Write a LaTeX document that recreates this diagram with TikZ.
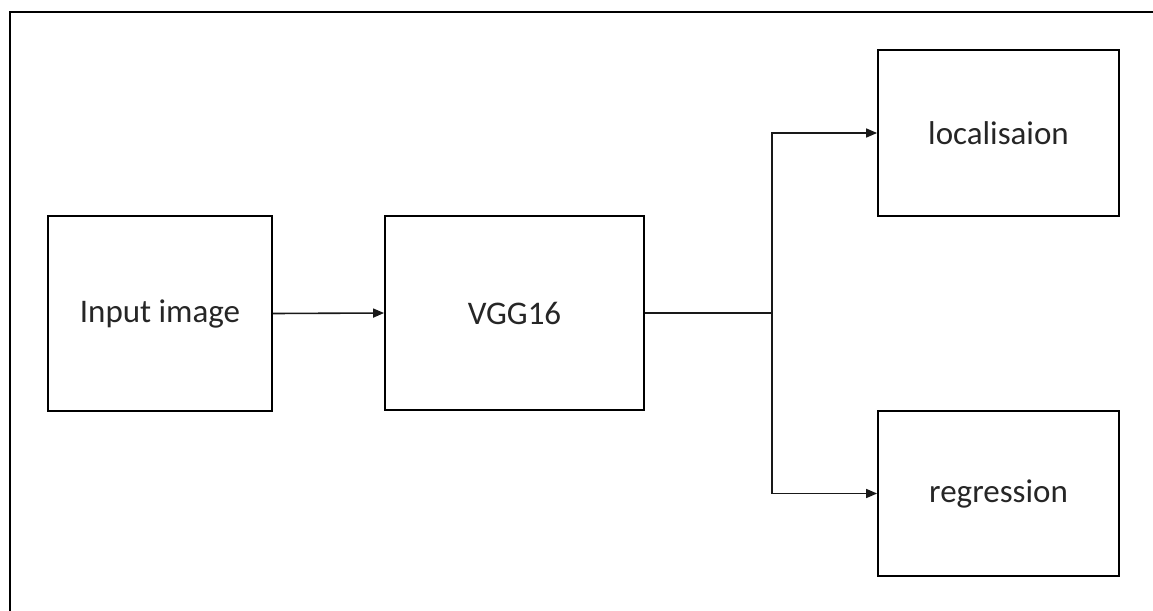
\documentclass[tikz,border=0pt]{standalone}
\usepackage{fontspec}
\setmainfont{Carlito}
\usetikzlibrary{arrows.meta}
\tikzset{
  blk/.style={draw=black, line width=1.8pt, minimum width=#1, inner sep=0pt, font=\fontsize{33}{40}\selectfont, text=black!85},
  conn/.style={line width=1.6pt, draw=black!90, -{Triangle[length=11pt,width=9pt]}},
  plain/.style={line width=1.6pt, draw=black!90},
  frame/.style={line width=2pt, draw=black}
}
\begin{document}
\begin{tikzpicture}[x=1pt,y=-1pt]
\clip (0,0) rectangle (1153,610);
\fill[white] (0,0) rectangle (1153,610);
\draw[frame] (10,615) -- (10,12) -- (1160,12);
\node[blk=224pt, minimum height=195pt] (in) at (160,313.5) {Input image};
\node[blk=259pt, minimum height=194pt] (vgg) at (514.5,313) {VGG16};
\node[blk=241pt, minimum height=166pt] (loc) at (998.5,133) {localisaion};
\node[blk=241pt, minimum height=165pt] (reg) at (998.5,493.5) {regression};
\coordinate (br) at (772,313);
\draw[conn] (in.east) -- (vgg.west);
\draw[plain] (vgg.east) -- (br);
\draw[conn] (br) |- (loc.west);
\draw[conn] (br) |- (reg.west);
\end{tikzpicture}
\end{document}
